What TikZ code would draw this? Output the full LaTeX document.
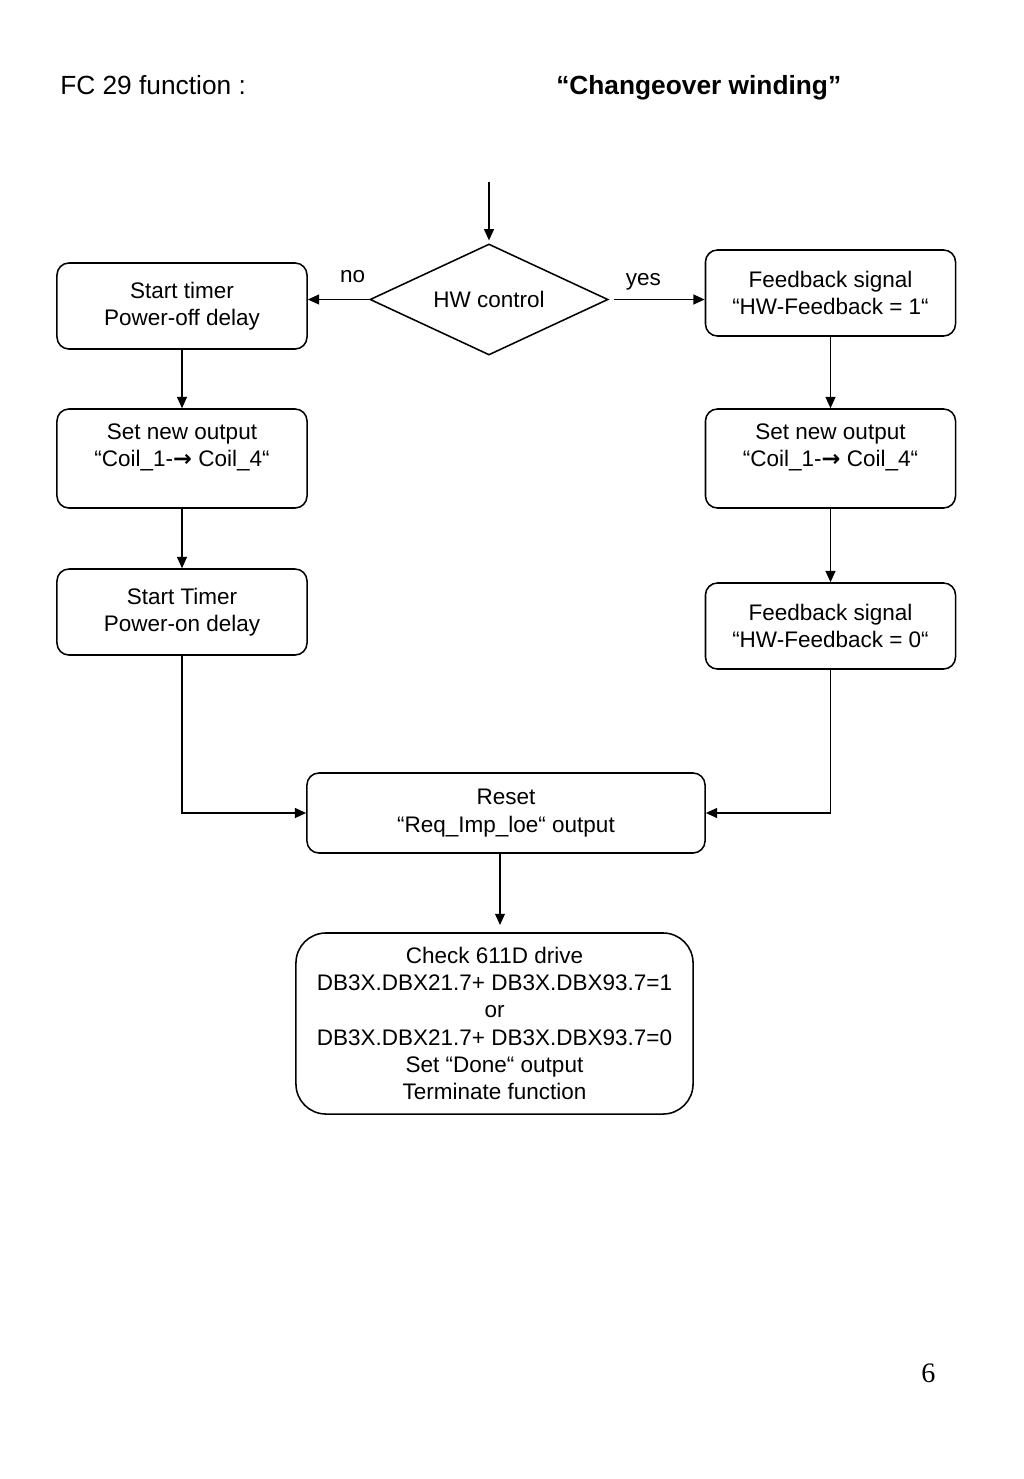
\documentclass[tikz,border=0pt]{standalone}
\usepackage{fontspec}
\setmainfont{Liberation Sans}
\newfontfamily\arrowfont{DejaVu Sans}
\newfontfamily\pagefont{Liberation Serif}
\usetikzlibrary{positioning, arrows.meta, calc, shapes.geometric}

\newcommand{\coilarrow}{{\arrowfont\bfseries →}}

\begin{document}
\begin{tikzpicture}[
  x=0.025cm, y=-0.025cm,
  font=\fontsize{16}{19.4}\selectfont,
  stepbox/.style={draw, line width=1.1pt, rounded corners=0.3cm, align=center,
    minimum width=6.25cm, minimum height=2.15cm, inner sep=2pt},
  decision/.style={draw, line width=1.1pt, diamond, shape aspect=2.14, minimum width=5.95cm,
    minimum height=2.775cm, inner sep=0pt},
  flow/.style={-{Triangle[length=8pt, width=7pt]}, line width=1.1pt},
  lbl/.style={inner sep=0pt}
]
\useasboundingbox (0,0) rectangle (1024,1479);

% heading
\node[lbl, anchor=base west, font=\fontsize{18.7}{22}\selectfont] (fc) at (60,94) {FC 29 function :};
\node[lbl, anchor=base west, font=\fontsize{18.7}{22}\selectfont\bfseries] (title) at (556,94) {“Changeover winding”};

% decision
\coordinate (entry) at (489,182);
\node[decision] (hw) at (489,299.5) {HW control};

% "no" branch
\node[stepbox] (poff) at (182,306) {Start timer\\Power-off delay};
\node[stepbox, minimum height=2.475cm] (setl) at (182,458.5) {Set new output\\“Coil\_1-\coilarrow{} Coil\_4“\\\mbox{}};
\node[stepbox] (pon) at (182,612) {Start Timer\\Power-on delay};

% "yes" branch
\node[stepbox] (fb1) at (830.5,293) {Feedback signal\\“HW-Feedback = 1“};
\node[stepbox, minimum height=2.475cm] (setr) at (830.5,458.5) {Set new output\\“Coil\_1-\coilarrow{} Coil\_4“\\\mbox{}};
\node[stepbox] (fb0) at (830.5,626) {Feedback signal\\“HW-Feedback = 0“};

% common end
\node[stepbox, minimum width=9.95cm, minimum height=2cm] (reset) at (506,813) {Reset\\“Req\_Imp\_loe“ output};
\node[stepbox, rounded corners=0.75cm, minimum width=9.925cm, minimum height=4.525cm] (check) at (494.5,1023.5)
  {Check 611D drive\\DB3X.DBX21.7+ DB3X.DBX93.7=1\\or\\DB3X.DBX21.7+ DB3X.DBX93.7=0\\Set “Done“ output\\Terminate function};

% connectors
\draw[flow, shorten >=2pt] (entry) -- (hw.north);
\draw[flow] (hw.west) -- (hw.west -| poff.east) node[lbl, pos=0.27, above=0.4cm] {no};
\draw[flow, shorten <=0.125cm] (hw.east) -- (hw.east -| fb1.west) node[lbl, pos=0.36, above=0.21cm] {yes};
\draw[flow] (poff) -- (setl);
\draw[flow] (setl) -- (pon);
\draw[flow] (fb1) -- (setr);
\draw[flow] (setr) -- (fb0);
\draw[flow] (pon.south) |- (reset.west);
\draw[flow] (fb0.south) |- (reset.east);
\draw[flow, shorten >=0.18cm] ([xshift=-0.15cm]reset.south) -- ([xshift=-0.15cm]reset.south |- check.north);

% page number
\node[lbl, anchor=base west, font=\pagefont\fontsize{20}{24}\selectfont] (page) at (921,1382) {6};

\end{tikzpicture}
\end{document}
